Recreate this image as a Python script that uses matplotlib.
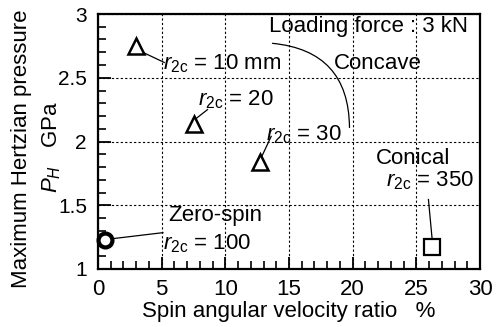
import matplotlib
matplotlib.use("Agg")
import matplotlib.pyplot as plt
from matplotlib.ticker import MultipleLocator

plt.rcParams['font.family'] = ['Liberation Sans', 'DejaVu Sans']
plt.rcParams['mathtext.fontset'] = 'custom'
plt.rcParams['mathtext.rm'] = 'Liberation Sans'
plt.rcParams['mathtext.it'] = 'Liberation Sans:italic'

# Data
concave_x = [3.0, 7.5, 12.7]
concave_y = [2.75, 2.14, 1.84]
zero_x = [0.55]
zero_y = [1.23]
conical_x = [26.2]
conical_y = [1.17]

xticks = [0, 5, 10, 15, 20, 25, 30]
yticks = [1, 1.5, 2, 2.5, 3]
yticklabels = ['1', '1.5', '2', '2.5', '3']

fig = plt.figure(figsize=(5.01, 3.27), dpi=100)
ax = fig.add_axes([98/501, 1-269/327, (480-98)/501, (269-14)/327])
ax.set_xlim(0, 30)
ax.set_ylim(1, 3)
ax.set_xticks(xticks)
ax.set_yticks(yticks)
ax.set_yticklabels(yticklabels)
ax.xaxis.set_minor_locator(MultipleLocator(1))
ax.yaxis.set_minor_locator(MultipleLocator(0.1))
ax.tick_params(which='both', direction='in', top=False, right=False, colors='black')
ax.tick_params(axis='x', which='major', labelsize=16, pad=7)
ax.tick_params(axis='y', which='major', labelsize=15, pad=8)
ax.tick_params(which='major', length=9, width=1.3)
ax.tick_params(which='minor', length=6, width=1.2)
ax.grid(True, which='major', linestyle=(0, (2, 2)), color='black', linewidth=0.8)
for s in ax.spines.values():
    s.set_linewidth(1.6)

ax.plot(concave_x, concave_y, linestyle='none', marker='^', markersize=12,
        markerfacecolor='white', markeredgecolor='black', markeredgewidth=1.8, zorder=5)
ax.plot(zero_x, zero_y, linestyle='none', marker='o', markersize=10,
        markerfacecolor='white', markeredgecolor='black', markeredgewidth=3, zorder=5, clip_on=False)
ax.plot(conical_x, conical_y, linestyle='none', marker='s', markersize=11,
        markerfacecolor='white', markeredgecolor='black', markeredgewidth=1.6, zorder=5)

fs = 16
r = r'$r_{\mathrm{2c}}$'
ax.text(13.4, 2.90, 'Loading force : 3 kN', fontsize=fs, va='center', ha='left')
ax.text(18.5, 2.615, 'Concave', fontsize=fs, va='center', ha='left')
ax.text(5.1, 2.61, r + ' = 10 mm', fontsize=fs, va='center', ha='left')
ax.text(7.85, 2.33, r + ' = 20', fontsize=fs, va='center', ha='left')
ax.text(13.2, 2.05, r + ' = 30', fontsize=fs, va='center', ha='left')
ax.text(24.75, 1.87, 'Conical', fontsize=fs, va='center', ha='center')
ax.text(22.6, 1.69, r + ' = 350', fontsize=fs, va='center', ha='left')
ax.text(5.5, 1.42, 'Zero-spin', fontsize=fs, va='center', ha='left')
ax.text(5.1, 1.20, r + ' = 100', fontsize=fs, va='center', ha='left')

lk = dict(color='black', linewidth=0.9)
ax.plot([3.3, 5.2], [2.71, 2.62], **lk)
ax.plot([7.7, 8.6], [2.18, 2.25], **lk)
ax.plot([12.85, 13.6], [1.88, 2.04], **lk)
ax.plot([0.9, 5.1], [1.235, 1.285], **lk)
ax.plot([25.95, 26.25], [1.545, 1.225], **lk)

ax.annotate('', xy=(19.75, 2.11), xytext=(13.7, 2.77),
            arrowprops=dict(arrowstyle='-', color='black', linewidth=0.9,
                            connectionstyle='arc3,rad=-0.45', shrinkA=0, shrinkB=0))

ax.set_xlabel('Spin angular velocity ratio   %', fontsize=16, labelpad=1)
fig.text(22/501, 1-149/327, 'Maximum Hertzian pressure', rotation=90, fontsize=16,
         ha='center', va='center')
fig.text(52/501, 1-147/327, r'$P_H$   GPa', rotation=90, fontsize=16,
         ha='center', va='center')

fig.savefig('out.png', dpi=100)
